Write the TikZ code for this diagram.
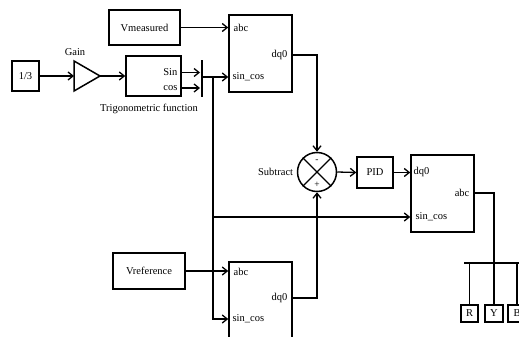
\documentclass[tikz,border=0pt]{standalone}
\usepackage{fontspec}
\setmainfont{Liberation Serif}
\usetikzlibrary{arrows.meta}

\begin{document}
\begin{tikzpicture}[x=1pt,y=-1pt,>={Straight Barb[length=5pt,width=8pt]},line width=1.3pt,
  font=\fontsize{10.5}{12}\selectfont,
  blk/.style={draw,line width=1.5pt,inner sep=0pt},
  port/.style={inner sep=1pt},
  sgn/.style={inner sep=0pt,font=\fontsize{9.5}{10}\selectfont}]
\useasboundingbox (0,0) rectangle (519,337);
% sources
\node[blk,minimum width=27,minimum height=30] (third) at (25.5,76) {1/3};
\coordinate (gainin) at (74,76); \coordinate (gainout) at (100,76);
\draw[blk] (74,61) -- (gainout) -- (74,91) -- cycle;
\node (gainlbl) at (75,52) {Gain};
\node[blk,minimum width=55,minimum height=40] (trig) at (153.5,76) {};
\node[port,anchor=east] (sin) at (179,72.5) {Sin};
\node[port,anchor=east] (cos) at (179,88) {cos};
\node (triglbl) at (149,109) {Trigonometric function};
\node[fill,minimum width=2.6,minimum height=37,inner sep=0pt] (mux) at (202,78.5) {};
\coordinate (muxout) at (203,77); \coordinate (br) at (213,77);
\node[blk,minimum width=71,minimum height=35] (vmeas) at (144.5,27.5) {Vmeasured};
\node[blk,minimum width=72,minimum height=36] (vref) at (149,271) {Vreference};
% abc -> dq0 blocks
\node[blk,minimum width=63,minimum height=77] (park1) at (260.5,53.5) {};
\node[port,anchor=west] (p1abc) at (232,28) {abc};
\node[port,anchor=east] (p1dq) at (289,55) {dq0};
\node[port,anchor=west] (p1sc) at (231,77) {sin\_cos};
\node[blk,minimum width=63,minimum height=98] (park3) at (260.5,311) {};
\node[port,anchor=west] (p3abc) at (232,272) {abc};
\node[port,anchor=east] (p3dq) at (289,298) {dq0};
\node[port,anchor=west] (p3sc) at (231,319) {sin\_cos};
% error and controller
\node[draw,circle,line width=1.5pt,minimum size=39,inner sep=0pt] (sub) at (317,172) {};
\draw (sub.north west) -- (sub.south east) (sub.north east) -- (sub.south west);
\node[sgn] (minus) at (317,161) {-};
\node[sgn] (plus) at (317,184.5) {+};
\node[left,inner sep=3pt] (sublbl) at (sub.west) {Subtract};
\node[blk,minimum width=36,minimum height=31] (pid) at (375,172.5) {PID};
% dq0 -> abc block
\node[blk,minimum width=63,minimum height=77] (park2) at (442.5,193.5) {};
\node[port,anchor=west] (p2dq) at (412,172) {dq0};
\node[port,anchor=east] (p2abc) at (471,193) {abc};
\node[port,anchor=west] (p2sc) at (414,217) {sin\_cos};
% outputs
\coordinate (busL) at (464,263); \coordinate (busR) at (530,263);
\node[blk,minimum width=17,minimum height=17] (R) at (469.5,313.5) {R};
\node[blk,minimum width=18,minimum height=17] (Y) at (494,313.5) {Y};
\node[blk,minimum width=18,minimum height=17] (B) at (517,313.5) {B};
% connectors
\draw[->] (third.east) -- (gainin);
\draw[->] (gainout) -- (trig.west);
\draw[->] (trig.east |- sin) -- (mux.west |- sin);
\draw[->] (trig.east |- cos) -- (mux.west |- cos);
\draw[->] (muxout) -- (muxout -| park1.west);
\draw[->] (vmeas.east) -- (vmeas.east -| park1.west);
\draw[->] (br) |- (p3sc.west -| park3.west);
\draw[->] (br |- p2sc) -- (p2sc -| park2.west);
\draw[->] (vref.east) -- (vref.east -| park3.west);
\draw[->] (p1dq -| park1.east) -| (sub.north);
\draw[->] (p3dq -| park3.east) -| (sub.south);
\draw[->] (sub.east) -- (pid.west);
\draw[->] (pid.east) -- (pid.east -| park2.west);
\draw (p2abc -| park2.east) -| (Y.north);
\draw (busL) -- (busR);
\draw (R.north |- busL) -- (R.north);
\draw (B.north |- busL) -- (B.north);
\end{tikzpicture}
\end{document}
